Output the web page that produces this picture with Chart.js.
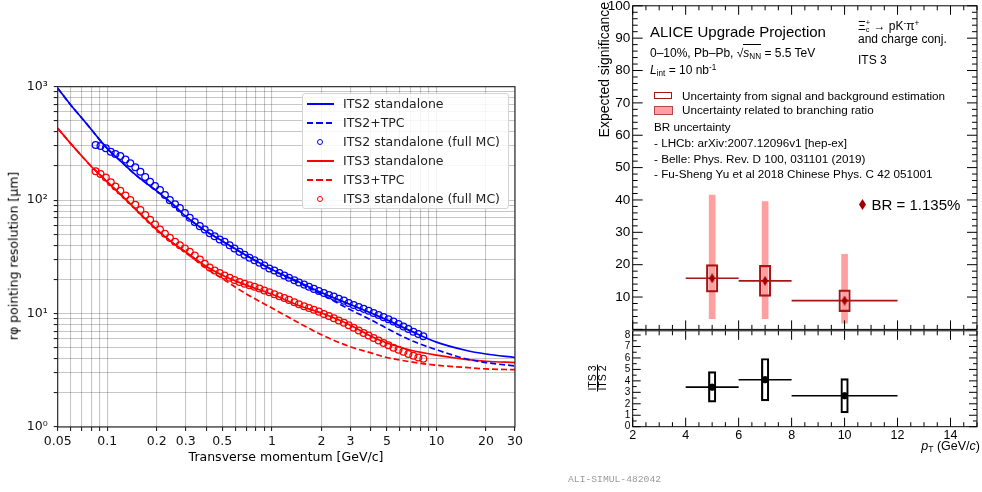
<!DOCTYPE html>
<html>
<head>
<meta charset="utf-8">
<script src="https://cdn.jsdelivr.net/npm/chart.js@4.4.0/dist/chart.umd.min.js"></script>
<style>
  body { margin: 0; width: 982px; height: 492px; position: relative; overflow: hidden; background: #fff; }
  canvas { position: absolute; }
  .t { position: absolute; white-space: nowrap; line-height: 1; color: #000; transform: translate(0, -50%); }
  .l { font-family: "DejaVu Sans", sans-serif; }
  .r { font-family: "Liberation Sans", Arial, sans-serif; }
  .t sub { font-size: 0.68em; vertical-align: -0.3em; line-height: 0; }
  .t sup { font-size: 0.68em; vertical-align: 0.5em; line-height: 0; }
</style>
</head>
<body>
<canvas id="resChart" width="530" height="492" style="left:0;top:0;width:530px;height:492px"></canvas>
<canvas id="sigChart" width="392" height="360" style="left:590px;top:-20px;width:392px;height:360px"></canvas>
<canvas id="ratioChart" width="392" height="172" style="left:590px;top:320px;width:392px;height:172px"></canvas>

<!-- left panel titles -->
<div class="t l" style="left:286px;top:457px;transform:translate(-50%,-50%);font-size:12.5px">Transverse momentum [GeV/c]</div>
<div class="t l" style="left:14px;top:256px;transform-origin:0 0;transform:rotate(-90deg) translate(-50%,-50%);font-size:12.5px">rφ pointing resolution [μm]</div>
<div id="resLegend" style="position:absolute;left:302px;top:93px;width:205px;height:114px;border:1px solid #d4d4d4;border-radius:3px;background:rgba(255,255,255,0.85)"></div>

<!-- right panel texts -->
<div class="t r" style="left:604px;top:2px;transform-origin:0 0;transform:rotate(-90deg) translate(-100%,-50%);font-size:14px">Expected significance</div>
<div class="t r" style="left:650px;top:30.5px;font-size:15px">ALICE Upgrade Projection</div>
<div class="t r" style="left:650px;top:52.5px;font-size:12px">0–10%, Pb–Pb, √<span style="border-top:1px solid #000;padding-top:1px"><i>s</i><sub>NN</sub></span> = 5.5 TeV</div>
<div class="t r" style="left:650px;top:70px;font-size:12px"><i>L</i><sub>int</sub> = 10 nb<sup>-1</sup></div>
<div class="t r" style="left:858px;top:27px;font-size:12px">Ξ<span style="display:inline-block;vertical-align:middle;font-size:0.62em;line-height:0.9;text-align:left"><span style="display:block">+</span><span style="display:block">c</span></span> → pK<sup>-</sup>π<sup>+</sup></div>
<div class="t r" style="left:858px;top:39px;font-size:12px">and charge conj.</div>
<div class="t r" style="left:858px;top:60px;font-size:12px">ITS 3</div>

<div style="position:absolute;left:654px;top:92px;width:16px;height:5px;border:1.5px solid #a01818;background:#fff"></div>
<div class="t r" style="left:682px;top:95.5px;font-size:11.7px">Uncertainty from signal and background estimation</div>
<div style="position:absolute;left:654px;top:106px;width:17px;height:7px;border:1px solid #b04848;background:#ff9f9f"></div>
<div class="t r" style="left:682px;top:109.5px;font-size:11.7px">Uncertainty related to branching ratio</div>
<div class="t r" style="left:654px;top:127px;font-size:11.7px">BR uncertainty</div>
<div class="t r" style="left:654px;top:143px;font-size:11.7px">- LHCb: arXiv:2007.12096v1 [hep-ex]</div>
<div class="t r" style="left:654px;top:158.5px;font-size:11.7px">- Belle: Phys. Rev. D 100, 031101 (2019)</div>
<div class="t r" style="left:654px;top:173.5px;font-size:11.7px">- Fu-Sheng Yu et al 2018 Chinese Phys. C 42 051001</div>
<svg style="position:absolute;left:858.5px;top:199px" width="7" height="11"><polygon points="3.5,0 7,5.5 3.5,11 0,5.5" fill="#a00000"/></svg>
<div class="t r" style="left:871.5px;top:204px;font-size:15px">BR = 1.135%</div>

<div class="t r" style="left:597px;top:378px;transform-origin:0 0;transform:rotate(-90deg) translate(-50%,-50%);font-size:10.5px;text-align:center">
  <div style="border-bottom:1px solid #000;line-height:8.5px;padding:0 1px">ITS 3</div>
  <div style="line-height:8.5px">ITS 2</div>
</div>
<div class="t r" style="right:2px;top:446px;font-size:12.5px"><i>p</i><sub>T</sub> (GeV/<i>c</i>)</div>
<div class="t" style="left:568px;top:480px;font-family:'Liberation Mono',monospace;font-size:9.7px;color:#9a9a9a">ALI-SIMUL-482042</div>

<script>
// ---- left panel: r-phi pointing resolution vs transverse momentum ----
const curvePt = [0.05, 0.06, 0.07, 0.08, 0.09, 0.1, 0.12, 0.15, 0.2, 0.25, 0.3, 0.4, 0.5, 0.7, 1, 1.5, 2, 3, 4, 5, 7, 10, 15, 20, 30];
const its2Standalone = [970, 690, 530, 420, 340, 285, 222, 165, 120, 92, 72, 53, 43.5, 32.5, 24.5, 18.6, 15.3, 12, 10.1, 8.8, 7.0, 5.6, 4.75, 4.4, 4.1];
const its2Tpc = [970, 690, 530, 420, 340, 285, 222, 165, 120, 92, 72, 53, 43.5, 32.5, 24.3, 18.3, 14.8, 10.8, 8.8, 7.4, 5.8, 4.8, 4.0, 3.7, 3.45];
const its3Standalone = [430, 315, 245, 198, 168, 145, 113, 82, 55, 42, 35, 26, 21.8, 17.8, 14.8, 11.6, 10.1, 7.9, 6.3, 5.5, 4.75, 4.3, 3.95, 3.8, 3.7];
const its3Tpc = [430, 315, 245, 198, 168, 145, 113, 82, 55, 42, 34.5, 25, 20.3, 14.9, 11.2, 8.1, 6.5, 5.1, 4.5, 4.1, 3.75, 3.5, 3.35, 3.25, 3.2];

const mcPt = [0.085, 0.091, 0.098, 0.105, 0.112, 0.12, 0.129, 0.138, 0.148, 0.159, 0.17, 0.182, 0.195, 0.209, 0.224, 0.24, 0.258, 0.276, 0.296, 0.317,
  0.34, 0.365, 0.391, 0.419, 0.449, 0.482, 0.516, 0.554, 0.593, 0.636, 0.682, 0.731, 0.784, 0.84, 0.9, 0.965, 1.035, 1.11, 1.19, 1.27,
  1.37, 1.46, 1.57, 1.68, 1.8, 1.93, 2.07, 2.22, 2.38, 2.55, 2.74, 2.93, 3.14, 3.37, 3.61, 3.87, 4.15, 4.45, 4.77, 5.11,
  5.48, 5.88, 6.3, 6.75, 7.24, 7.76, 8.32];
const its2FullMc = [306, 300, 287, 267, 255, 245, 228, 211, 195, 178, 160, 145, 133, 123, 111, 100, 92, 85, 77, 70,
  64, 59, 55, 51, 48, 45, 43, 40, 37.5, 35, 33, 31, 29.5, 28, 26.5, 25, 24, 22.8, 21.7, 20.7,
  19.7, 18.8, 18, 17.2, 16.5, 15.8, 15.2, 14.6, 14.1, 13.5, 13, 12.4, 11.9, 11.4, 11, 10.6, 10.1, 9.7, 9.3, 8.9,
  8.5, 8.1, 7.7, 7.3, 6.9, 6.6, 6.3];
const its3FullMc = [180, 170, 158, 144, 132, 121, 110, 100, 91, 82, 74, 67, 61, 55, 50.5, 46.5, 43, 40, 37.5, 35,
  32.5, 30, 27.5, 25.5, 24, 22.8, 21.7, 20.7, 19.8, 19, 18.3, 17.8, 17.2, 16.6, 16, 15.4, 14.8, 14.2, 13.7, 13.2,
  12.6, 12.1, 11.6, 11.2, 10.8, 10.4, 9.9, 9.5, 9.1, 8.7, 8.3, 7.9, 7.5, 7.1, 6.75, 6.4, 6.1, 5.8, 5.5, 5.25,
  5.0, 4.8, 4.6, 4.4, 4.25, 4.1, 4.0];

const seriesNames = ['ITS2 standalone', 'ITS2+TPC', 'ITS2 standalone (full MC)', 'ITS3 standalone', 'ITS3+TPC', 'ITS3 standalone (full MC)'];

const xTicksLog = [0.05, 0.06, 0.07, 0.08, 0.09, 0.1, 0.2, 0.3, 0.4, 0.5, 0.6, 0.7, 0.8, 0.9, 1, 2, 3, 4, 5, 6, 7, 8, 9, 10, 20, 30];
const xLabelsLog = ['0.05', '0.1', '0.2', '0.3', '0.5', '1', '2', '3', '5', '10', '20', '30'];
const yTicksLog = [1, 2, 3, 4, 5, 6, 7, 8, 9, 10, 20, 30, 40, 50, 60, 70, 80, 90, 100, 200, 300, 400, 500, 600, 700, 800, 900, 1000];
const yLabelsLog = {1: '10⁰', 10: '10¹', 100: '10²', 1000: '10³'};

// ---- right panel: Xi_c significance projection ----
const binLow = [4, 6, 8];
const binHigh = [6, 8, 12];
const binCenter = [5, 7, 10];
const significance = [15.8, 15.0, 8.9];
const sigSysLow = [11.5, 10.2, 5.5];
const sigSysHigh = [20.0, 19.8, 12.2];
const brLow = [3.3, 3.3, 1.9];
const brHigh = [41.5, 39.5, 23.2];
const ratio = [3.45, 4.1, 2.7];
const ratioLow = [2.15, 2.25, 1.2];
const ratioHigh = [4.8, 5.95, 4.2];

const xLabelsLin = [2, 4, 6, 8, 10, 12, 14];
const sigLabels = [10, 20, 30, 40, 50, 60, 70, 80, 90, 100];
const ratioLabels = [0, 1, 2, 3, 4, 5, 6, 7, 8];

const pts = (xs, ys) => xs.map((x, i) => ({x: x, y: ys[i]}));

const plainFrame = {
  id: 'plainFrame',
  afterDraw(chart) {
    const {ctx, chartArea: a} = chart;
    ctx.save();
    ctx.strokeStyle = '#222';
    ctx.lineWidth = 1.1;
    ctx.strokeRect(a.left, a.top, a.width, a.height);
    ctx.restore();
  }
};

function rootFrame(xTicks, yTicks) {
  return {
    id: 'rootFrame',
    afterDatasetsDraw(chart) {
      const {ctx, chartArea: a, scales} = chart;
      ctx.save();
      ctx.strokeStyle = '#000';
      ctx.lineWidth = 1;
      ctx.beginPath();
      xTicks.forEach(([v, len]) => {
        const p = scales.x.getPixelForValue(v);
        ctx.moveTo(p, a.bottom); ctx.lineTo(p, a.bottom - len);
        ctx.moveTo(p, a.top); ctx.lineTo(p, a.top + len);
      });
      yTicks.forEach(([v, len]) => {
        const p = scales.y.getPixelForValue(v);
        ctx.moveTo(a.left, p); ctx.lineTo(a.left + len, p);
        ctx.moveTo(a.right, p); ctx.lineTo(a.right - len, p);
      });
      ctx.stroke();
      ctx.strokeRect(a.left, a.top, a.width, a.height);
      ctx.restore();
    }
  };
}

// left chart
const curveStyle = {pointRadius: 0, borderWidth: 1.7, fill: false, cubicInterpolationMode: 'monotone'};
const mcStyle = {showLine: false, pointRadius: 3.4, borderWidth: 1.25, pointBackgroundColor: 'rgba(0,0,0,0)'};

const resChart = new Chart(document.getElementById('resChart'), {
  type: 'line',
  data: {
    datasets: [
      {label: seriesNames[0], data: pts(curvePt, its2Standalone), borderColor: '#0000ff', ...curveStyle},
      {label: seriesNames[1], data: pts(curvePt, its2Tpc), borderColor: '#0000ff', borderDash: [6, 3], ...curveStyle},
      {label: seriesNames[2], data: pts(mcPt, its2FullMc), borderColor: '#0000ff', pointBorderColor: '#0000ff', ...mcStyle},
      {label: seriesNames[3], data: pts(curvePt, its3Standalone), borderColor: '#ff0000', ...curveStyle},
      {label: seriesNames[4], data: pts(curvePt, its3Tpc), borderColor: '#ff0000', borderDash: [6, 3], ...curveStyle},
      {label: seriesNames[5], data: pts(mcPt, its3FullMc), borderColor: '#ff0000', pointBorderColor: '#ff0000', ...mcStyle}
    ]
  },
  options: {
    responsive: false,
    animation: false,
    events: [],
    layout: {padding: {left: 0, top: 86.7, right: 15, bottom: 40}},
    plugins: {legend: {display: false}, tooltip: {enabled: false}},
    scales: {
      x: {
        type: 'logarithmic', min: 0.05, max: 30,
        afterBuildTicks: s => { s.ticks = xTicksLog.map(v => ({value: v})); },
        afterFit: s => { s.height = 25; },
        ticks: {
          autoSkip: false, maxRotation: 0, padding: 3, color: '#111',
          font: {family: 'DejaVu Sans', size: 12.5},
          callback: v => xLabelsLog.includes(String(v)) ? String(v) : ''
        },
        grid: {color: 'rgba(0,0,0,0.22)', lineWidth: 1.1, tickLength: 4, tickColor: '#222'},
        border: {display: false}
      },
      y: {
        type: 'logarithmic', min: 1, max: 1000,
        afterBuildTicks: s => { s.ticks = yTicksLog.map(v => ({value: v})); },
        afterFit: s => { s.width = 57.7; },
        ticks: {
          autoSkip: false, padding: 6, color: '#111',
          font: {family: 'DejaVu Sans', size: 12.5},
          callback: v => yLabelsLog[v] || ''
        },
        grid: {color: 'rgba(0,0,0,0.22)', lineWidth: 1.1, tickLength: 4, tickColor: '#222'},
        border: {display: false}
      }
    }
  },
  plugins: [plainFrame]
});

// legend of the left chart
const legendRows = resChart.data.datasets.map((ds, i) => {
  const y = 103.5 + i * 19;
  let sample;
  if (ds.showLine === false) {
    sample = `<div style="position:absolute;left:316.5px;top:${y - 3}px;width:4px;height:4px;border:1.2px solid ${ds.borderColor};border-radius:50%"></div>`;
  } else if (ds.borderDash) {
    sample = `<div style="position:absolute;left:306.5px;top:${y - 1}px;width:27px;height:2px;background:repeating-linear-gradient(90deg,${ds.borderColor} 0 6px,transparent 6px 9.5px)"></div>`;
  } else {
    sample = `<div style="position:absolute;left:306.5px;top:${y - 1}px;width:27px;height:2px;background:${ds.borderColor}"></div>`;
  }
  return sample + `<div class="t l" style="left:343px;top:${y}px;font-size:12.5px;color:#222">${ds.label}</div>`;
});
document.getElementById('resLegend').insertAdjacentHTML('afterend', legendRows.join(''));

// right charts
function diamond(w, h, color) {
  const c = document.createElement('canvas');
  c.width = w; c.height = h;
  const g = c.getContext('2d');
  g.fillStyle = color;
  g.beginPath();
  g.moveTo(w / 2, 0); g.lineTo(w, h / 2); g.lineTo(w / 2, h); g.lineTo(0, h / 2);
  g.closePath(); g.fill();
  return c;
}

const xMinor = [];
for (let v = 2; v <= 15; v += 0.5) xMinor.push([v, xLabelsLin.includes(v) ? 9 : 4.5]);
const sigTickMarks = [];
for (let v = 0; v <= 100; v += 2) sigTickMarks.push([v, v % 10 === 0 ? 10 : 5]);
const ratioTickMarks = [];
for (let v = 0; v <= 8; v += 0.5) ratioTickMarks.push([v, Number.isInteger(v) ? 8 : 4]);

const rootFont = {family: 'Liberation Sans', size: 13.5};
const darkRed = '#a81414';

const binLines = (vals, color) => binLow.map((lo, i) => ({
  type: 'line', data: [{x: lo, y: vals[i]}, {x: binHigh[i], y: vals[i]}],
  borderColor: color, borderWidth: 1.6, pointRadius: 0, order: 3
}));

new Chart(document.getElementById('sigChart'), {
  type: 'bar',
  data: {
    datasets: [
      {data: binCenter.map((c, i) => ({x: c, y: [brLow[i], brHigh[i]]})), backgroundColor: '#ff9f9f', borderWidth: 0,
        grouped: false, barThickness: 6, maxBarThickness: 6, order: 5},
      ...binLines(significance, darkRed),
      {data: binCenter.map((c, i) => ({x: c, y: [sigSysLow[i], sigSysHigh[i]]})), backgroundColor: 'rgba(0,0,0,0)',
        borderColor: darkRed, borderWidth: 1.5, borderSkipped: false, grouped: false, barThickness: 11.5, maxBarThickness: 11.5, order: 2},
      {type: 'line', showLine: false, data: pts(binCenter, significance), pointStyle: diamond(6, 10, '#a00000'), order: 1}
    ]
  },
  options: {
    responsive: false,
    animation: false,
    events: [],
    layout: {padding: {left: 0, top: 25.8, right: 1, bottom: 9.2}},
    plugins: {legend: {display: false}, tooltip: {enabled: false}},
    scales: {
      x: {type: 'linear', min: 2, max: 15, offset: false, display: false,
        afterBuildTicks: s => { s.ticks = xLabelsLin.map(v => ({value: v})); }},
      y: {
        min: 0, max: 100,
        afterBuildTicks: s => { s.ticks = sigLabels.map(v => ({value: v})); },
        afterFit: s => { s.width = 42.7; },
        ticks: {font: rootFont, color: '#000', padding: 2.5},
        grid: {display: false, drawTicks: false},
        border: {display: false}
      }
    }
  },
  plugins: [rootFrame(xMinor, sigTickMarks)]
});

new Chart(document.getElementById('ratioChart'), {
  type: 'bar',
  data: {
    datasets: [
      ...binLines(ratio, '#000'),
      {data: binCenter.map((c, i) => ({x: c, y: [ratioLow[i], ratioHigh[i]]})), backgroundColor: 'rgba(0,0,0,0)',
        borderColor: '#000', borderWidth: 1.5, borderSkipped: false, grouped: false, barThickness: 7.5, maxBarThickness: 7.5, order: 2},
      {type: 'line', showLine: false, data: pts(binCenter, ratio), pointRadius: 3.2, pointBackgroundColor: '#000', pointBorderColor: '#000', order: 1}
    ]
  },
  options: {
    responsive: false,
    animation: false,
    events: [],
    layout: {padding: {left: 0, top: 10.8, right: 1, bottom: 45.3}},
    plugins: {legend: {display: false}, tooltip: {enabled: false}},
    scales: {
      x: {
        type: 'linear', min: 2, max: 15, offset: false,
        afterBuildTicks: s => { s.ticks = xLabelsLin.map(v => ({value: v})); },
        afterFit: s => { s.height = 20; },
        ticks: {font: {family: 'Liberation Sans', size: 12.5}, color: '#000', padding: 1, maxRotation: 0, autoSkip: false},
        grid: {display: false, drawTicks: false},
        border: {display: false}
      },
      y: {
        min: 0, max: 8.37,
        afterBuildTicks: s => { s.ticks = ratioLabels.map(v => ({value: v})); },
        afterFit: s => { s.width = 42.7; },
        ticks: {font: {family: 'Liberation Sans', size: 10}, color: '#000', padding: 2.5, autoSkip: false},
        grid: {display: false, drawTicks: false},
        border: {display: false}
      }
    }
  },
  plugins: [rootFrame(xMinor, ratioTickMarks)]
});
</script>
</body>
</html>
